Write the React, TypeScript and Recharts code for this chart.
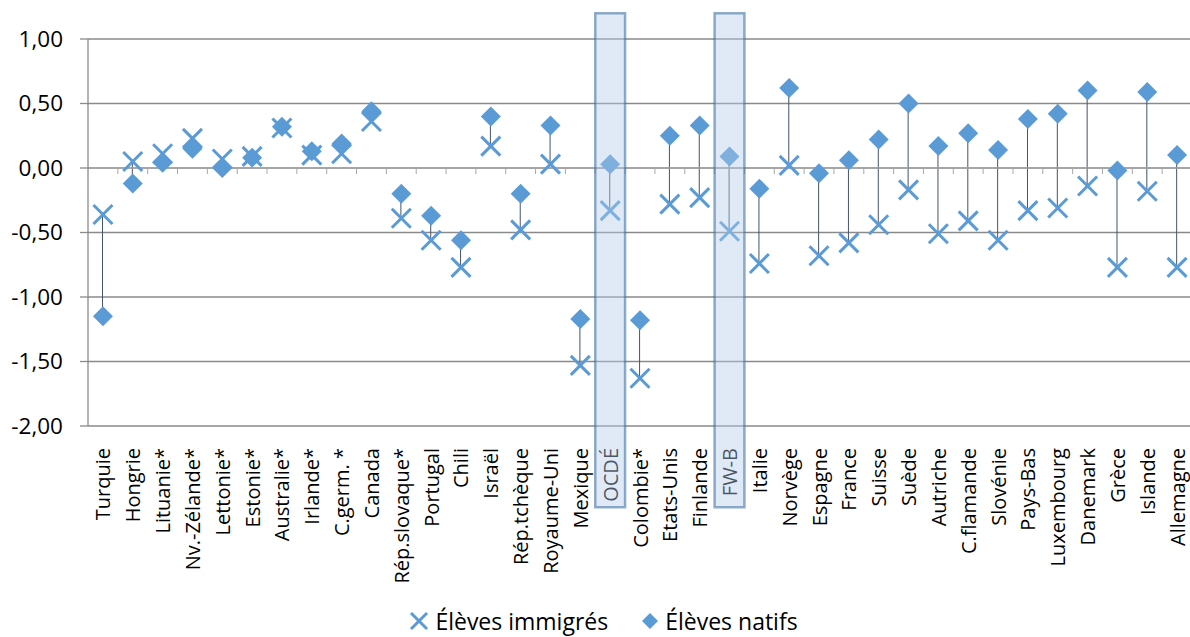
import React from "react";
import {
  ComposedChart,
  Bar,
  Line,
  XAxis,
  YAxis,
  CartesianGrid,
  ReferenceArea,
  ReferenceLine,
  Legend,
} from "recharts";

// Pays / systèmes, dans l'ordre d'affichage
const countries = [
  "Turquie", "Hongrie", "Lituanie*", "Nv.-Zélande*", "Lettonie*", "Estonie*",
  "Australie*", "Irlande*", "C.germ. *", "Canada", "Rép.slovaque*", "Portugal",
  "Chili", "Israël", "Rép.tchèque", "Royaume-Uni", "Mexique", "OCDÉ",
  "Colombie*", "Etats-Unis", "Finlande", "FW-B", "Italie", "Norvège",
  "Espagne", "France", "Suisse", "Suède", "Autriche", "C.flamande",
  "Slovénie", "Pays-Bas", "Luxembourg", "Danemark", "Grèce", "Islande",
  "Allemagne",
];

// Élèves immigrés
const immigrants = [
  -0.36, 0.05, 0.11, 0.23, 0.07, 0.09,
  0.31, 0.10, 0.11, 0.36, -0.39, -0.56,
  -0.77, 0.17, -0.48, 0.03, -1.53, -0.33,
  -1.63, -0.28, -0.23, -0.49, -0.74, 0.02,
  -0.68, -0.58, -0.44, -0.17, -0.51, -0.41,
  -0.56, -0.33, -0.31, -0.14, -0.77, -0.18,
  -0.77,
];

// Élèves natifs
const natives = [
  -1.15, -0.12, 0.04, 0.15, 0.0, 0.08,
  0.32, 0.13, 0.19, 0.44, -0.2, -0.37,
  -0.56, 0.4, -0.2, 0.33, -1.17, 0.03,
  -1.18, 0.25, 0.33, 0.09, -0.16, 0.62,
  -0.04, 0.06, 0.22, 0.5, 0.17, 0.27,
  0.14, 0.38, 0.42, 0.6, -0.02, 0.59,
  0.1,
];

const yTicks = [-2, -1.5, -1, -0.5, 0, 0.5, 1];
const highlighted = ["OCDÉ", "FW-B"];

const data = countries.map((name, i) => ({
  name,
  immigres: immigrants[i],
  natifs: natives[i],
  ecart: [Math.min(immigrants[i], natives[i]), Math.max(immigrants[i], natives[i])],
}));

const BLUE = "#5B9BD5";
const GRID = "#8a8a8a";
const FONT = "'Open Sans', sans-serif";

const CrossDot = (props: any) => {
  const { cx, cy, index } = props;
  if (cx == null || cy == null) return <g key={`x-${index}`} />;
  const r = 9.5;
  return (
    <g key={`x-${index}`}>
      <line x1={cx - r} y1={cy - r} x2={cx + r} y2={cy + r} stroke={BLUE} strokeWidth={3} />
      <line x1={cx - r} y1={cy + r} x2={cx + r} y2={cy - r} stroke={BLUE} strokeWidth={3} />
    </g>
  );
};

const DiamondDot = (props: any) => {
  const { cx, cy, index } = props;
  if (cx == null || cy == null) return <g key={`d-${index}`} />;
  const r = 10;
  return (
    <path
      key={`d-${index}`}
      d={`M${cx},${cy - r} L${cx + r},${cy} L${cx},${cy + r} L${cx - r},${cy} Z`}
      fill={BLUE}
    />
  );
};

const CountryTick = (props: any) => {
  const { x, y, payload } = props;
  return (
    <text
      x={x}
      y={y + 14}
      transform={`rotate(-90, ${x}, ${y + 14})`}
      textAnchor="end"
      dominantBaseline="central"
      fontSize={20}
      fontFamily={FONT}
      fill="#000"
    >
      {payload.value}
    </text>
  );
};

// Axe des catégories tracé sur la ligne zéro, avec graduations entre catégories
const ZeroAxis = (props: any) => {
  const { x1, y1, x2 } = props;
  if (x1 == null) return <g />;
  const n = countries.length;
  const step = (x2 - x1) / n;
  const ticks = [];
  for (let i = 1; i < n; i++) {
    const tx = x1 + i * step;
    ticks.push(<line key={i} x1={tx} y1={y1} x2={tx} y2={y1 + 6} stroke="#a6a6a6" strokeWidth={1} />);
  }
  return (
    <g>
      <line x1={x1} y1={y1} x2={x2} y2={y1} stroke="#a6a6a6" strokeWidth={1.5} />
      {ticks}
    </g>
  );
};

const LegendContent = () => (
  <div
    style={{
      display: "flex",
      justifyContent: "center",
      alignItems: "center",
      height: 34,
      paddingTop: 2,
      boxSizing: "border-box",
      fontFamily: FONT,
      fontSize: 23,
      lineHeight: "26px",
      color: "#000",
      whiteSpace: "nowrap",
    }}
  >
    <svg width={22} height={22} style={{ marginLeft: 14, marginRight: 5 }}>
      <line x1={3} y1={3} x2={19} y2={19} stroke={BLUE} strokeWidth={3} />
      <line x1={3} y1={19} x2={19} y2={3} stroke={BLUE} strokeWidth={3} />
    </svg>
    <span>Élèves immigrés</span>
    <svg width={20} height={20} style={{ marginLeft: 32, marginRight: 5 }}>
      <path d="M10,2 L18,10 L10,18 L2,10 Z" fill={BLUE} />
    </svg>
    <span>Élèves natifs</span>
  </div>
);

export default function App() {
  return (
    <div style={{ position: "absolute", left: 0, top: 0, width: 1190, height: 637, background: "#fff" }}>
      <ComposedChart
        width={1190}
        height={637}
        data={data}
        margin={{ top: 39, right: -2, bottom: 0, left: 0 }}
        barCategoryGap={0}
      >
        <CartesianGrid horizontal vertical={false} stroke={GRID} strokeWidth={1.3} />
        <XAxis
          dataKey="name"
          interval={0}
          axisLine={false}
          tickLine={false}
          height={177}
          tick={<CountryTick />}
        />
        <YAxis
          domain={[-2, 1]}
          ticks={yTicks}
          width={88}
          tickSize={8}
          tickMargin={17}
          axisLine={{ stroke: GRID, strokeWidth: 1.3 }}
          tickLine={{ stroke: GRID, strokeWidth: 1.3 }}
          tick={{ fontSize: 22.5, fontFamily: FONT, fill: "#000" }}
          tickFormatter={(v: number) => v.toFixed(2).replace(".", ",")}
        />
        <ReferenceLine y={0} shape={<ZeroAxis />} />
        <Bar dataKey="ecart" barSize={1} fill="#44546A" isAnimationActive={false} />
        <Line
          dataKey="immigres"
          stroke="none"
          dot={CrossDot}
          activeDot={false}
          legendType="none"
          isAnimationActive={false}
        />
        <Line
          dataKey="natifs"
          stroke="none"
          dot={DiamondDot}
          activeDot={false}
          legendType="none"
          isAnimationActive={false}
        />
        {highlighted.map((c) => (
          <ReferenceArea
            key={c}
            x1={c}
            x2={c}
            y1={-2.63}
            y2={1.2}
            ifOverflow="visible"
            fill="rgb(179,206,233)"
            fillOpacity={0.42}
            stroke="rgba(55,106,158,0.55)"
            strokeWidth={2.5}
            zIndex={2500}
          />
        ))}
        <Legend verticalAlign="bottom" content={<LegendContent />} />
      </ComposedChart>
    </div>
  );
}
